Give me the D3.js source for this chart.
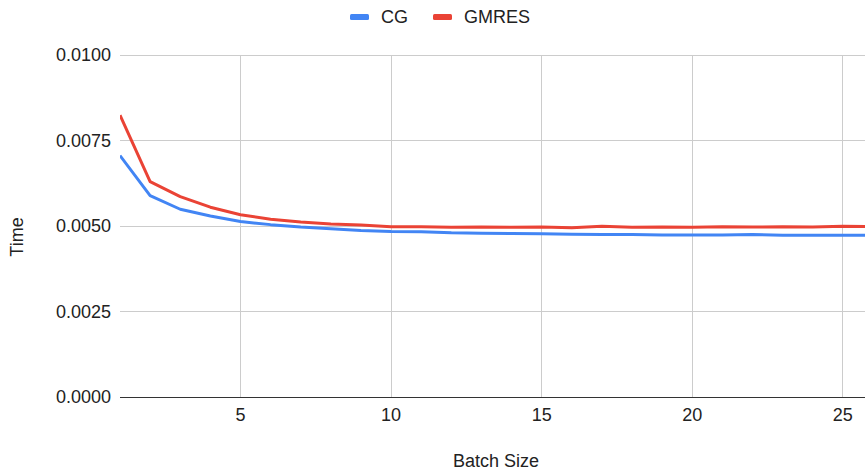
<!DOCTYPE html>
<html><head><meta charset="utf-8">
<script src="https://cdn.jsdelivr.net/npm/d3@7"></script>
<style>body{margin:0;background:#fff;} text{font-family:Arial,"Liberation Sans",sans-serif;}</style>
</head><body><svg id="c" width="865" height="470"></svg>
<script>
const batchSizes = [1,2,3,4,5,6,7,8,9,10,11,12,13,14,15,16,17,18,19,20,21,22,23,24,25,26];
const cgTimes = [0.00706,0.00589,0.00549,0.00529,0.00513,0.00504,0.00497,0.00492,0.00487,0.00484,0.00483,0.00480,0.00479,0.00478,0.00477,0.00476,0.00475,0.00475,0.00474,0.00474,0.00474,0.00475,0.00473,0.00473,0.00473,0.00473];
const gmresTimes = [0.00824,0.00630,0.00586,0.00555,0.00533,0.00520,0.00512,0.00506,0.00503,0.00498,0.00498,0.00496,0.00497,0.00496,0.00497,0.00495,0.00499,0.00496,0.00497,0.00496,0.00498,0.00497,0.00498,0.00497,0.00499,0.00498];
const seriesNames = ["CG","GMRES"];
const seriesColors = ["#4285F4","#EA4335"];
const xTicks = [5,10,15,20,25];
const yTicks = [0,0.0025,0.005,0.0075,0.01];

(function(){
const svg = d3.select("#c");
const W = 865, H = 470;
const pLeft = 120, pTop = 55, pBottom = 397;
const FS = 18;
const x = d3.scaleLinear().domain([1,26]).range([pLeft, pLeft + 25*30.12]);
const y = d3.scaleLinear().domain([0,0.01]).range([pBottom, pTop]);

svg.append("defs").append("clipPath").attr("id","clip")
  .append("rect").attr("x",pLeft).attr("y",0).attr("width",W-pLeft).attr("height",H);

svg.append("g").selectAll("line").data(yTicks.filter(d=>d>0)).join("line")
  .attr("x1",pLeft).attr("x2",W).attr("y1",d=>y(d)).attr("y2",d=>y(d))
  .attr("stroke","#cccccc").attr("stroke-width",1).attr("shape-rendering","crispEdges");
svg.append("g").selectAll("line").data(xTicks).join("line")
  .attr("x1",d=>x(d)).attr("x2",d=>x(d)).attr("y1",pTop).attr("y2",pBottom)
  .attr("stroke","#cccccc").attr("stroke-width",1).attr("shape-rendering","crispEdges");

svg.append("g").selectAll("text").data(yTicks).join("text")
  .attr("x",111).attr("y",d=>y(d)).attr("dy","0.35em").attr("text-anchor","end")
  .attr("font-size",FS).attr("fill","#222").text(d=>d3.format(".4f")(d));
svg.append("g").selectAll("text").data(xTicks).join("text")
  .attr("x",d=>x(d)).attr("y",415).attr("dy","0.35em").attr("text-anchor","middle")
  .attr("font-size",FS).attr("fill","#222").text(d=>d);

const series = [cgTimes, gmresTimes];
const line = d3.line().x((d,i)=>x(batchSizes[i])).y(d=>y(d));
const lg = svg.append("g").attr("clip-path","url(#clip)");
series.forEach((s,k)=>{
  lg.append("path").datum(s).attr("d",line).attr("fill","none")
    .attr("stroke",seriesColors[k]).attr("stroke-width",3).attr("stroke-linejoin","round");
});

svg.append("line").attr("x1",pLeft).attr("x2",W).attr("y1",y(0)).attr("y2",y(0))
  .attr("stroke","#333").attr("stroke-width",1).attr("shape-rendering","crispEdges");

svg.append("text").attr("x",496).attr("y",461).attr("dy","0.35em").attr("text-anchor","middle")
  .attr("font-size",FS).attr("fill","#222").text("Batch Size");
svg.append("text").attr("transform","translate(17,237) rotate(-90)").attr("dy","0.35em")
  .attr("text-anchor","middle").attr("font-size",FS).attr("fill","#222").text("Time");

const legX = [350, 433];
const leg = svg.append("g");
seriesNames.forEach((n,k)=>{
  leg.append("rect").attr("x",legX[k]).attr("y",14).attr("width",19).attr("height",6).attr("rx",1.5)
    .attr("fill",seriesColors[k]);
  leg.append("text").attr("x",legX[k]+31).attr("y",17).attr("dy","0.35em")
    .attr("font-size",FS).attr("fill","#222").text(n);
});
})();
</script></body></html>
